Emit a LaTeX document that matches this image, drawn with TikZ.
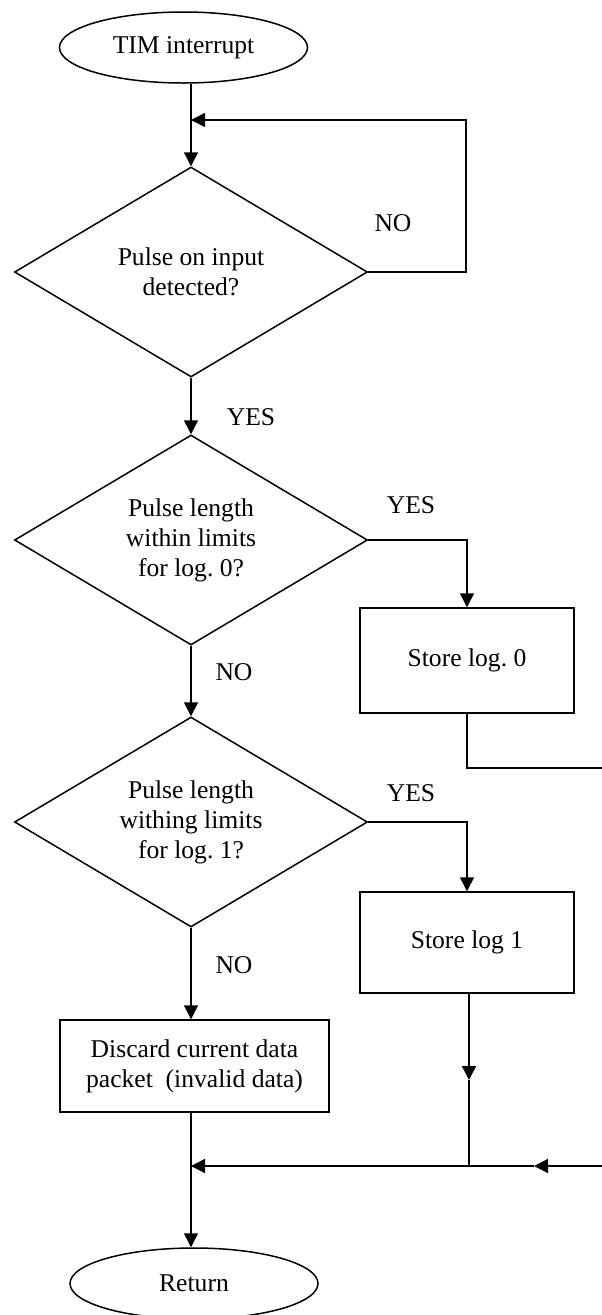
\documentclass[tikz,border=0pt]{standalone}
\usepackage{fontspec}
\setmainfont{Liberation Serif}
\usetikzlibrary{shapes.geometric,arrows.meta}
\begin{document}
\frenchspacing
\begin{tikzpicture}[x=1pt,y=-1pt,
  font=\fontsize{25.6}{30}\selectfont,
  line width=1.5pt,
  term/.style={draw,ellipse,inner sep=0pt,minimum width=248pt,minimum height=71pt},
  decide/.style={draw,diamond,aspect=1.68,inner sep=0pt,minimum width=353pt,minimum height=210pt,align=center},
  proc/.style={draw,rectangle,inner sep=0pt,minimum width=214pt,align=center},
  arr/.style={-{Triangle[length=14pt,width=14pt]}},
  lbl/.style={inner sep=0pt}
]
\useasboundingbox (0,0) rectangle (602,1315);
\fill[white] (0,0) rectangle (602,1315);

\node[term] (start) at (183.5,47.5) {TIM interrupt};
\node[decide] (d1) at (191,272) {Pulse on input\\detected?};
\node[decide] (d2) at (191,540) {Pulse length\\within limits\\for log. 0?};
\node[decide] (d3) at (191,822) {Pulse length\\withing limits\\for log. 1?};
\node[proc,minimum height=105pt] (s0) at (467,660.5) {Store log. 0};
\node[proc,minimum height=101pt] (s1) at (467,942.5) {Store log 1};
\node[proc,minimum width=269pt,minimum height=92pt] (disc) at (194.5,1066) {Discard current data\\packet~ (invalid data)};
\node[term] (ret) at (194,1283.5) {Return};

\node[lbl] (no1) at (393,223) {NO};
\node[lbl] (yes1) at (251,417) {YES};
\node[lbl] (yes2) at (411,505) {YES};
\node[lbl] (no2) at (234,672) {NO};
\node[lbl] (yes3) at (411,793) {YES};
\node[lbl] (no3) at (234,965) {NO};

\coordinate (fbR) at (466,120);
\coordinate (s0end) at (602,768);
\coordinate (rin) at (602,1166);
\coordinate (rmid) at (534,1166);
\coordinate (m1) at (469,1166);
\coordinate (s1tip) at (469,1080);
\coordinate (m0) at (191,1166);

% start to first decision
\draw[arr] (d1.north |- start.south) -- (d1.north);
% feedback loop (NO)
\draw[arr] (d1.east) -| (fbR) -- (fbR -| d1.north);
% YES from d1 to d2
\draw[arr] (d1.south) -- (d2.north);
% d2 YES to store 0
\draw[arr] (d2.east) -| (s0.north);
% d2 NO to d3
\draw[arr] (d2.south) -- (d3.north);
% store 0 out to the right
\draw (s0.south) |- (s0end);
% d3 YES to store 1
\draw[arr] (d3.east) -| (s1.north);
% d3 NO to discard
\draw[arr] (d3.south) -- (d3.south |- disc.north);
% store 1 down to merge
\draw[arr] (s1.south -| s1tip) -- (s1tip);
\draw (s1tip) -- (m1);
% incoming from right
\draw[arr] (rin) -- (rmid);
\draw (rmid) -- (m1);
\draw[arr] (m1) -- (m0);
% discard to return
\draw[arr] (m0 |- disc.south) -- (m0 |- ret.north);
\end{tikzpicture}
\end{document}
